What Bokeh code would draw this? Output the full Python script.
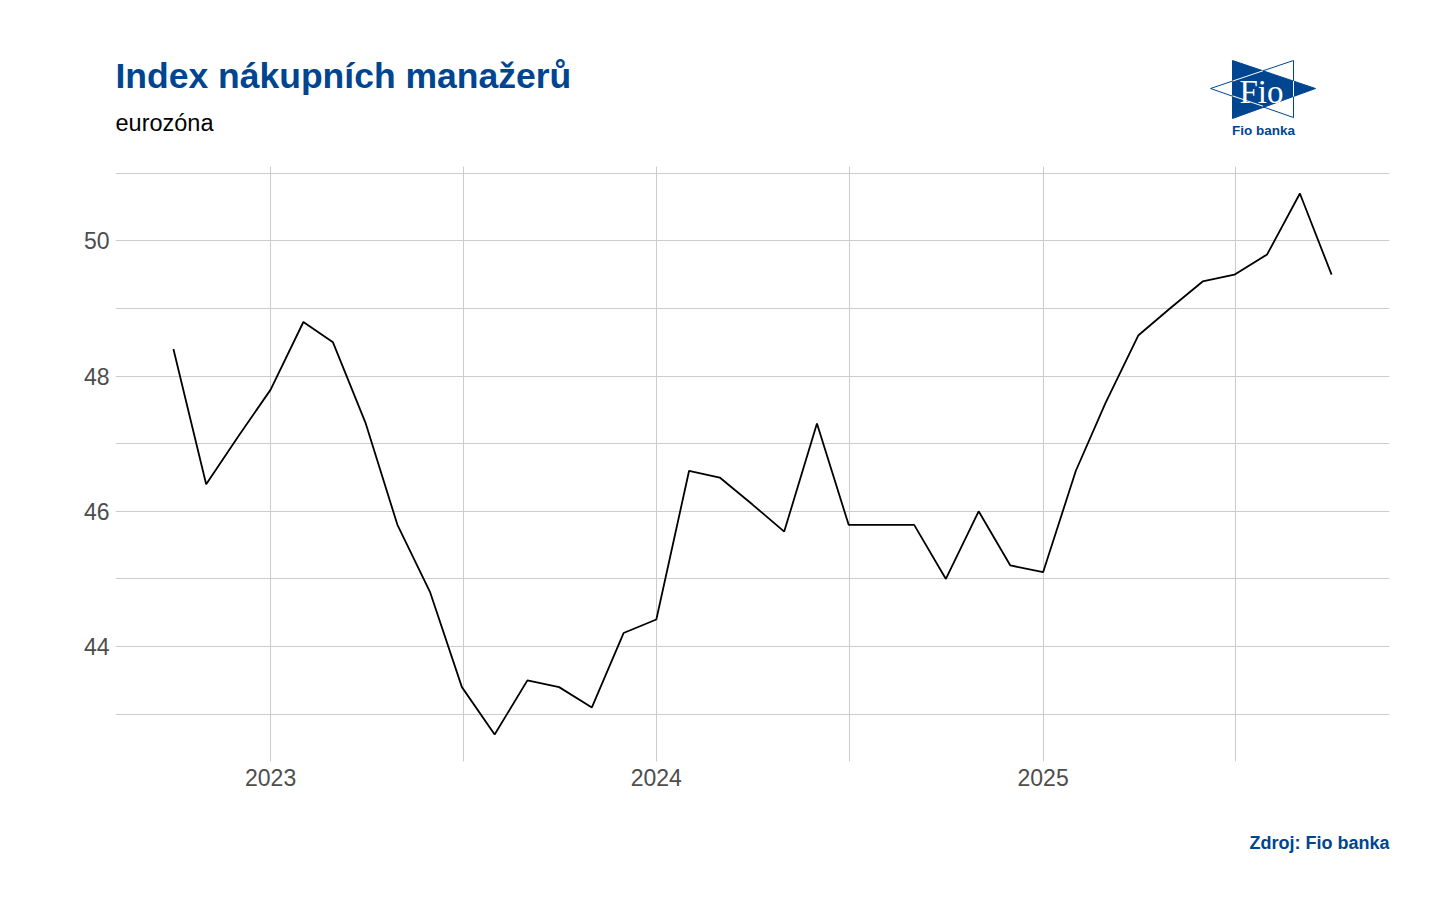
import pandas as pd
from bokeh.plotting import figure
from bokeh.layouts import column
from bokeh.models import (FixedTicker, DatetimeTickFormatter, Range1d, Label,
                          ColumnDataSource)
from bokeh.embed import file_html
from bokeh.resources import INLINE

# ---- data ----
months = ["2022-10", "2022-11", "2022-12",
          "2023-01", "2023-02", "2023-03", "2023-04", "2023-05", "2023-06",
          "2023-07", "2023-08", "2023-09", "2023-10", "2023-11", "2023-12",
          "2024-01", "2024-02", "2024-03", "2024-04", "2024-05", "2024-06",
          "2024-07", "2024-08", "2024-09", "2024-10", "2024-11", "2024-12",
          "2025-01", "2025-02", "2025-03", "2025-04", "2025-05", "2025-06",
          "2025-07", "2025-08", "2025-09", "2025-10"]
pmi = [48.4, 46.4, 47.1,
       47.8, 48.8, 48.5, 47.3, 45.8, 44.8,
       43.4, 42.7, 43.5, 43.4, 43.1, 44.2,
       44.4, 46.6, 46.5, 46.1, 45.7, 47.3,
       45.8, 45.8, 45.8, 45.0, 46.0, 45.2,
       45.1, 46.6, 47.6, 48.6, 49.0, 49.4,
       49.5, 49.8, 50.7, 49.5]
year_ticks = ["2023-01-01", "2024-01-01", "2025-01-01", "2026-01-01"]
y_ticks = [44, 46, 48, 50]
minor_y_ticks = [43, 45, 47, 49, 51]

title_text = "Index nákupních manažerů"
subtitle_text = "eurozóna"
source_text = "Zdroj: Fio banka"
logo_text = "Fio"
logo_caption = "Fio banka"

BLUE = "#00458f"
FONT = "Liberation Sans"
W = 1433
FL, FR = 115, 1389          # frame left / right (shared by all rows)


def blank_fig(height):
    f = figure(width=W, height=height, output_backend="svg",
               toolbar_location=None, x_range=Range1d(FL, FR),
               y_range=Range1d(0, height), x_axis_location=None,
               y_axis_location=None, min_border=0)
    f.min_border_left = FL
    f.min_border_right = W - FR
    f.min_border_top = f.min_border_bottom = 0
    f.outline_line_color = None
    f.xgrid.visible = False
    f.ygrid.visible = False
    f.background_fill_color = "white"
    f.border_fill_color = "white"
    return f


def txt(fig, H, x, base, size, text, **kw):
    # base = desired baseline in pixels from the top of the row
    shift = 0.3 * size
    fig.add_layout(Label(x=x, y=H - base + shift, text=text,
                         text_font_size=f"{size}px",
                         text_baseline="alphabetic", **kw))


# ---- header (title, subtitle, logo) ----
HH = 150
head = blank_fig(HH)
txt(head, HH, 115, 86, 35.5, title_text, text_font=FONT,
    text_font_style="bold", text_color=BLUE)
txt(head, HH, 115, 130, 23.5, subtitle_text, text_font=FONT,
    text_color="black")
# logo: outline triangle, blue pennant, white inner lines, text
head.patch([1210, 1293, 1293], [HH - 88, HH - 60, HH - 117],
           fill_alpha=0, line_color=BLUE, line_width=1)
head.patch([1232, 1232, 1315], [HH - 60, HH - 118, HH - 88],
           fill_color=BLUE, line_color=BLUE, line_width=1)
head.multi_line([[1232, 1262.5], [1232, 1262.5], [1293, 1293]],
                [[HH - 80.6, HH - 70.3], [HH - 95.4, HH - 105.7],
                 [HH - 80.6, HH - 96]],
                line_color="white", line_width=1)
txt(head, HH, 1261, 101, 33, logo_text, text_font="Liberation Serif",
    text_color="white", text_align="center")
txt(head, HH, 1263, 134, 13.5, logo_caption, text_font=FONT,
    text_font_style="bold", text_color=BLUE, text_align="center")

# ---- main chart ----
dates = pd.to_datetime(months)
src = ColumnDataSource(dict(x=dates, y=pmi))

yt = pd.to_datetime(year_ticks)
major_x = [t.value / 1e6 for t in yt[:-1]]
minor_x = [(a.value + (b.value - a.value) / 2) / 1e6 for a, b in zip(yt[:-1], yt[1:])]

span = dates.max() - dates.min()
x0 = dates.min() - span * 0.05
x1 = dates.max() + span * 0.05
ymin, ymax = min(pmi), max(pmi)
yr = ymax - ymin

p = figure(width=W, height=671, x_axis_type="datetime",
           output_backend="svg", toolbar_location=None,
           x_range=Range1d(x0, x1),
           y_range=Range1d(ymin - 0.05 * yr, ymax + 0.05 * yr),
           min_border_left=FL, min_border_right=W - FR,
           min_border_top=16, min_border_bottom=60)
p.outline_line_color = None
p.background_fill_color = "white"
p.border_fill_color = "white"

p.line("x", "y", source=src, line_color="black", line_width=1.8)

p.xaxis.ticker = FixedTicker(ticks=major_x, minor_ticks=minor_x)
p.xaxis.formatter = DatetimeTickFormatter(years="%Y", months="%Y", days="%Y",
                                          hours="%Y", minutes="%Y", seconds="%Y",
                                          milliseconds="%Y", microseconds="%Y")
p.yaxis.ticker = FixedTicker(ticks=y_ticks, minor_ticks=minor_y_ticks)
for ax in (p.xaxis, p.yaxis):
    ax.axis_line_color = None
    ax.major_tick_line_color = None
    ax.minor_tick_line_color = None
    ax.major_tick_out = 0
    ax.major_tick_in = 0
    ax.minor_tick_out = 0
    ax.minor_tick_in = 0
    ax.major_label_text_font = FONT
    ax.major_label_text_font_size = "23px"
    ax.major_label_text_color = "#4d4d4d"
p.xaxis.major_label_standoff = 7
p.yaxis.major_label_standoff = 6

for g in (p.xgrid, p.ygrid):
    g.grid_line_color = "#cccccc"
    g.grid_line_width = 1
    g.minor_grid_line_color = "#cccccc"
    g.minor_grid_line_width = 1

# ---- footer (source) ----
FH = 40
foot = blank_fig(FH)
txt(foot, FH, 1389, 848 - 821, 18, source_text, text_font=FONT,
    text_font_style="bold", text_color=BLUE, text_align="right")

layout = column(head, p, foot, spacing=0)
open("out.html", "w").write(file_html(layout, INLINE))
